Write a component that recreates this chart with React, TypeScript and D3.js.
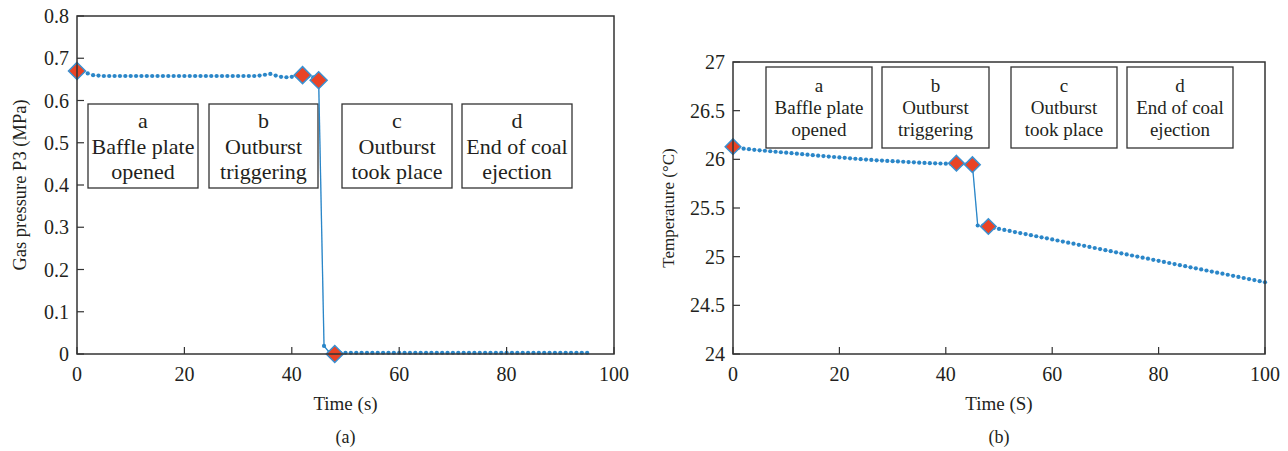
import React from 'react';
import * as d3 from 'd3';

// panel (a): gas pressure P3, sampled every second
const pressureTime = [
  0, 1, 2, 3, 4, 5, 6, 7, 8, 9, 10, 11, 12, 13, 14, 15, 16, 17, 18, 19,
  20, 21, 22, 23, 24, 25, 26, 27, 28, 29, 30, 31, 32, 33, 34, 35, 36, 37, 38, 39,
  40, 41, 42, 43, 44, 45, 46, 47, 48, 49, 50, 51, 52, 53, 54, 55, 56, 57, 58, 59,
  60, 61, 62, 63, 64, 65, 66, 67, 68, 69, 70, 71, 72, 73, 74, 75, 76, 77, 78, 79,
  80, 81, 82, 83, 84, 85, 86, 87, 88, 89, 90, 91, 92, 93, 94, 95,
];
const pressureValues = [
  0.670, 0.668, 0.664, 0.660, 0.659, 0.658, 0.658, 0.658, 0.658, 0.658,
  0.658, 0.658, 0.658, 0.658, 0.658, 0.658, 0.658, 0.658, 0.658, 0.658,
  0.658, 0.658, 0.658, 0.658, 0.658, 0.658, 0.658, 0.658, 0.658, 0.658,
  0.658, 0.658, 0.658, 0.658, 0.659, 0.661, 0.663, 0.659, 0.656, 0.655,
  0.656, 0.658, 0.660, 0.657, 0.655, 0.648, 0.019, 0.004, 0.000, 0.003,
  0.003, 0.003, 0.003, 0.003, 0.003, 0.003, 0.003, 0.003, 0.003, 0.003,
  0.003, 0.003, 0.003, 0.003, 0.003, 0.003, 0.003, 0.003, 0.003, 0.003,
  0.003, 0.003, 0.003, 0.003, 0.003, 0.003, 0.003, 0.003, 0.003, 0.003,
  0.003, 0.003, 0.003, 0.003, 0.003, 0.003, 0.003, 0.003, 0.003, 0.003,
  0.003, 0.003, 0.003, 0.003, 0.003, 0.003,
];
const pressureMarks = [0, 42, 45, 48];

// panel (b): temperature, sampled every second
const tempTime = [
  0, 1, 2, 3, 4, 5, 6, 7, 8, 9, 10, 11, 12, 13, 14, 15, 16, 17, 18, 19,
  20, 21, 22, 23, 24, 25, 26, 27, 28, 29, 30, 31, 32, 33, 34, 35, 36, 37, 38, 39,
  40, 41, 42, 43, 44, 45, 46, 47, 48, 49, 50, 51, 52, 53, 54, 55, 56, 57, 58, 59,
  60, 61, 62, 63, 64, 65, 66, 67, 68, 69, 70, 71, 72, 73, 74, 75, 76, 77, 78, 79,
  80, 81, 82, 83, 84, 85, 86, 87, 88, 89, 90, 91, 92, 93, 94, 95, 96, 97, 98, 99, 100,
];
const tempValues = [
  26.130, 26.118, 26.110, 26.104, 26.098, 26.093, 26.088, 26.083, 26.078, 26.073,
  26.068, 26.063, 26.058, 26.053, 26.048, 26.043, 26.038, 26.033, 26.028, 26.024,
  26.020, 26.015, 26.010, 26.006, 26.002, 25.998, 25.994, 25.990, 25.987, 25.984,
  25.981, 25.978, 25.975, 25.972, 25.969, 25.966, 25.963, 25.961, 25.959, 25.957,
  25.955, 25.953, 25.960, 25.955, 25.950, 25.945, 25.320, 25.318, 25.310, 25.295,
  25.285, 25.275, 25.264, 25.253, 25.242, 25.232, 25.221, 25.210, 25.199, 25.188,
  25.177, 25.166, 25.155, 25.144, 25.133, 25.122, 25.111, 25.100, 25.089, 25.078,
  25.067, 25.056, 25.045, 25.034, 25.023, 25.012, 25.001, 24.990, 24.979, 24.968,
  24.957, 24.946, 24.935, 24.924, 24.913, 24.902, 24.891, 24.880, 24.869, 24.858,
  24.847, 24.836, 24.825, 24.814, 24.803, 24.792, 24.781, 24.770, 24.759, 24.748, 24.737,
];
const tempMarks = [0, 42, 45, 48];

const timeTicks = [0, 20, 40, 60, 80, 100];
const pressureTicks = [0, 0.1, 0.2, 0.3, 0.4, 0.5, 0.6, 0.7, 0.8];
const tempTicks = [24, 24.5, 25, 25.5, 26, 26.5, 27];

const stageLabels = [
  ['a', 'Baffle plate', 'opened'],
  ['b', 'Outburst', 'triggering'],
  ['c', 'Outburst', 'took place'],
  ['d', 'End of coal', 'ejection'],
];

const FONT = '"Liberation Serif", "DejaVu Serif", serif';
const INK = '#231f20';
const BLUE = '#2a86c8';
const RED = '#ea4325';

type PanelProps = {
  x0: number; x1: number; y0: number; y1: number;
  yDomain: [number, number];
  yTicks: number[];
  times: number[];
  values: number[];
  marks: number[];
  xTitle: string; yTitle: string; caption: string;
  yTitleX: number; yTitleSize: number;
  boxes: { x: number; w: number }[];
  boxTop: number; boxH: number; boxFont: number; boxLine: number;
  diamond: number;
};

function Panel(p: PanelProps) {
  const x = d3.scaleLinear().domain([0, 100]).range([p.x0, p.x1]);
  const y = d3.scaleLinear().domain(p.yDomain).range([p.y1, p.y0]);
  const pts = p.times.map((t, i) => [t, p.values[i]] as [number, number]);
  const line = d3.line<[number, number]>().x(d => x(d[0])).y(d => y(d[1]));
  // the connecting line only shows where the dots are far apart (the sudden drops)
  const jumps = d3.pairs(pts).filter(([a, b]) =>
    Math.hypot(x(b[0]) - x(a[0]), y(b[1]) - y(a[1])) > 8);
  const tickLen = 7;
  const fmt = (v: number) => String(+v.toFixed(1));
  const d = p.diamond;

  return (
    <g>
      {p.boxes.map((b, i) => (
        <g key={i}>
          <rect x={b.x} y={p.boxTop} width={b.w} height={p.boxH} fill="#fff" stroke="#333" strokeWidth={1.3} />
          {stageLabels[i].map((s, j) => (
            <text key={j} x={b.x + b.w / 2} y={p.boxTop + p.boxH / 2 + (j - 1) * p.boxLine}
              dy="0.35em" textAnchor="middle" fontSize={p.boxFont} fill={INK}>{s}</text>
          ))}
        </g>
      ))}

      <path d={line(pts) || ''} fill="none" stroke={BLUE} strokeWidth={0.4} strokeOpacity={0.6} />
      {jumps.map((seg, i) => (
        <path key={i} d={line(seg) || ''} fill="none" stroke={BLUE} strokeWidth={1.3} />
      ))}
      {pts.map((q, i) => (
        <circle key={i} cx={x(q[0])} cy={y(q[1])} r={2.1} fill={BLUE} />
      ))}
      {p.marks.map(i => {
        const cx = x(p.times[i]);
        const cy = y(p.values[i]);
        return (
          <path key={i} d={`M${cx},${cy - d}L${cx + d},${cy}L${cx},${cy + d}L${cx - d},${cy}Z`}
            fill={RED} stroke="#3b90d0" strokeWidth={1.5} />
        );
      })}

      {/* frame */}
      <rect x={p.x0} y={p.y0} width={p.x1 - p.x0} height={p.y1 - p.y0} fill="none" stroke="#333" strokeWidth={1.5} />

      {timeTicks.map(t => (
        <g key={t}>
          <line x1={x(t)} x2={x(t)} y1={p.y1} y2={p.y1 - tickLen} stroke="#333" strokeWidth={1.2} />
          <text x={x(t)} y={p.y1 + 20} dy="0.35em" textAnchor="middle" fontSize={20} fill={INK}>{t}</text>
        </g>
      ))}
      {p.yTicks.map(t => (
        <g key={t}>
          <line x1={p.x0} x2={p.x0 + tickLen} y1={y(t)} y2={y(t)} stroke="#333" strokeWidth={1.2} />
          <text x={p.x0 - 8} y={y(t)} dy="0.35em" textAnchor="end" fontSize={20} fill={INK}>{fmt(t)}</text>
        </g>
      ))}

      <text x={(p.x0 + p.x1) / 2} y={p.y1 + 49} dy="0.35em" textAnchor="middle" fontSize={19} fill={INK}>{p.xTitle}</text>
      <text transform={`translate(${p.yTitleX},${(p.y0 + p.y1) / 2}) rotate(-90)`} dy="0.35em"
        textAnchor="middle" fontSize={p.yTitleSize} fill={INK}>{p.yTitle}</text>
      <text x={(p.x0 + p.x1) / 2} y={437} dy="0.35em" textAnchor="middle" fontSize={18} fill={INK}>{p.caption}</text>
    </g>
  );
}

export default function App() {
  return (
    <svg width={1288} height={451} style={{ display: 'block', position: 'absolute', left: 0, top: 0, background: '#fff' }}
      fontFamily={FONT}>
      <Panel x0={77} x1={614} y0={16} y1={354} yDomain={[0, 0.8]} yTicks={pressureTicks}
        times={pressureTime} values={pressureValues} marks={pressureMarks}
        xTitle="Time (s)" yTitle="Gas pressure P3 (MPa)" caption="(a)" yTitleX={20} yTitleSize={18.5}
        boxes={[{ x: 88, w: 110 }, { x: 209, w: 109 }, { x: 342, w: 110 }, { x: 462, w: 110 }]}
        boxTop={104} boxH={84} boxFont={22} boxLine={25.5} diamond={8.5} />
      <Panel x0={733} x1={1265} y0={62} y1={354} yDomain={[24, 27]} yTicks={tempTicks}
        times={tempTime} values={tempValues} marks={tempMarks}
        xTitle="Time (S)" yTitle="Temperature (°C)" caption="(b)" yTitleX={668} yTitleSize={17}
        boxes={[{ x: 766, w: 106 }, { x: 882, w: 107 }, { x: 1011, w: 106 }, { x: 1127, w: 106 }]}
        boxTop={67} boxH={81} boxFont={19} boxLine={22} diamond={7.8} />
    </svg>
  );
}
